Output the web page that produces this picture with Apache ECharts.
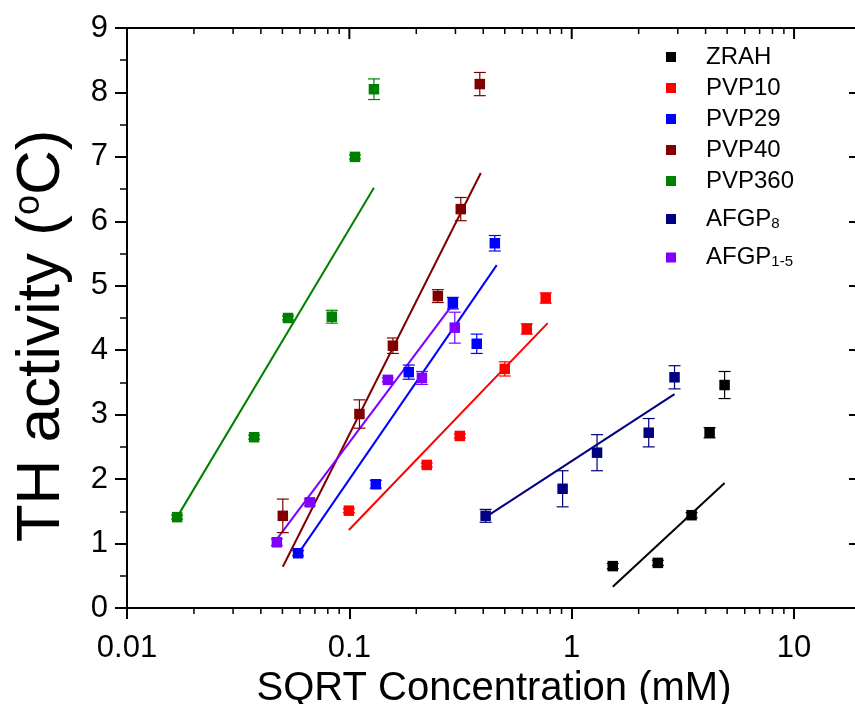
<!DOCTYPE html>
<html><head><meta charset="utf-8">
<script src="https://cdn.jsdelivr.net/npm/echarts@6/dist/echarts.min.js"></script>
<style>html,body{margin:0;padding:0;background:#fff}#c{width:855px;height:704px}</style>
</head><body><div id="c"></div>
<script>
// ---- data ----
const zrahX=[1.53,2.44,3.46,4.17,4.87];
const zrahY=[0.65,0.70,1.44,2.72,3.46];
const zrahErr=[0.04,0.04,0.04,0.08,0.21];
const zrahFitX=[1.53,4.87];
const zrahFitY=[0.33,1.94];

const pvp10X=[0.0995,0.223,0.314,0.50,0.628,0.764];
const pvp10Y=[1.51,2.22,2.67,3.71,4.33,4.81];
const pvp10Err=[0.03,0.03,0.03,0.11,0.08,0.08];
const pvp10FitX=[0.0995,0.78];
const pvp10FitY=[1.21,4.42];

const pvp29X=[0.0588,0.1315,0.185,0.292,0.374,0.451];
const pvp29Y=[0.85,1.92,3.66,4.73,4.10,5.66];
const pvp29Err=[0.04,0.06,0.11,0.09,0.15,0.12];
const pvp29FitX=[0.0588,0.46];
const pvp29FitY=[0.84,5.32];

const pvp40X=[0.0502,0.111,0.157,0.250,0.317,0.386];
const pvp40Y=[1.43,3.01,4.07,4.84,6.19,8.13];
const pvp40Err=[0.26,0.22,0.12,0.10,0.18,0.18];
const pvp40FitX=[0.0502,0.39];
const pvp40FitY=[0.64,6.75];

const pvp360X=[0.0168,0.0373,0.053,0.0834,0.106,0.129];
const pvp360Y=[1.41,2.65,4.50,4.52,7.00,8.05];
const pvp360Err=[0.03,0.03,0.03,0.10,0.03,0.16];
const pvp360FitX=[0.0168,0.129];
const pvp360FitY=[1.41,6.52];

const afgp8X=[0.41,0.91,1.30,2.22,2.90];
const afgp8Y=[1.43,1.85,2.41,2.72,3.58];
const afgp8Err=[0.10,0.28,0.28,0.22,0.18];
const afgp8FitX=[0.41,2.90];
const afgp8FitY=[1.41,3.32];

const afgp15X=[0.0472,0.0664,0.149,0.212,0.298];
const afgp15Y=[1.02,1.64,3.54,3.57,4.35];
const afgp15Err=[0.05,0.05,0.03,0.10,0.24];
const afgp15FitX=[0.0472,0.29];
const afgp15FitY=[1.07,4.70];

const seriesNames=['ZRAH','PVP10','PVP29','PVP40','PVP360','AFGP8','AFGP1-5'];
const seriesColors=['#000000','#ff0000','#0000ff','#800000','#008000','#000080','#8000ff'];
const xMajorTicks=[0.01,0.1,1,10];
const xMinorTicks=[0.02,0.03,0.04,0.05,0.06,0.07,0.08,0.09,0.2,0.3,0.4,0.5,0.6,0.7,0.8,0.9,2,3,4,5,6,7,8,9];
const xMin=0.01, xMax=20, yMin=0, yMax=9;

const groups=[
 [zrahX,zrahY,zrahErr,zrahFitX,zrahFitY],
 [pvp10X,pvp10Y,pvp10Err,pvp10FitX,pvp10FitY],
 [pvp29X,pvp29Y,pvp29Err,pvp29FitX,pvp29FitY],
 [pvp40X,pvp40Y,pvp40Err,pvp40FitX,pvp40FitY],
 [pvp360X,pvp360Y,pvp360Err,pvp360FitX,pvp360FitY],
 [afgp8X,afgp8Y,afgp8Err,afgp8FitX,afgp8FitY],
 [afgp15X,afgp15Y,afgp15Err,afgp15FitX,afgp15FitY]
];

const FONT='"Liberation Sans", Arial, Helvetica, sans-serif';

function errItem(params, api){
  const x=api.value(0), y=api.value(1), e=api.value(2);
  const hi=api.coord([x,y+e]), lo=api.coord([x,y-e]);
  const c=api.visual('color');
  const w=6;
  const st={stroke:c,lineWidth:1.2};
  return {type:'group',children:[
    {type:'line',shape:{x1:hi[0],y1:hi[1],x2:lo[0],y2:lo[1]},style:st},
    {type:'line',shape:{x1:hi[0]-w,y1:hi[1],x2:hi[0]+w,y2:hi[1]},style:st},
    {type:'line',shape:{x1:lo[0]-w,y1:lo[1],x2:lo[0]+w,y2:lo[1]},style:st}
  ]};
}
// minor ticks: bottom (outward) and top (inward)
function minorTickItem(params, api){
  const v=api.value(0);
  const b=api.coord([v,yMin]), t=api.coord([v,yMax]);
  const st={stroke:'#000',lineWidth:1.5};
  return {type:'group',children:[
    {type:'line',shape:{x1:b[0],y1:b[1],x2:b[0],y2:b[1]+6},style:st},
    {type:'line',shape:{x1:t[0],y1:t[1],x2:t[0],y2:t[1]+6},style:st}
  ]};
}

const series=[];
groups.forEach((g,i)=>{
  const [xs,ys,es,fx,fy]=g;
  const col=seriesColors[i];
  series.push({type:'line',name:seriesNames[i]+'_fit',data:fx.map((v,k)=>[v,fy[k]]),
    symbol:'none',lineStyle:{color:col,width:2},itemStyle:{color:col},z:2,silent:true});
  series.push({type:'custom',name:seriesNames[i]+'_err',renderItem:errItem,
    data:xs.map((v,k)=>[v,ys[k],es[k]]),encode:{x:0,y:1},itemStyle:{color:col},z:3,silent:true});
  series.push({type:'scatter',name:seriesNames[i],data:xs.map((v,k)=>[v,ys[k]]),
    symbol:'rect',symbolSize:10.5,itemStyle:{color:col,opacity:1},z:4});
});
series.push({type:'custom',name:'minorTicks',renderItem:minorTickItem,clip:false,
  data:xMinorTicks.map(v=>[v,1]),encode:{x:0,y:1},silent:true,z:20});
series.push({type:'line',name:'frame',xAxisIndex:0,yAxisIndex:1,
  data:[[xMin,yMin],[xMax,yMax]],symbol:'none',lineStyle:{opacity:0},silent:true});

const legendText={fontSize:24,fontFamily:FONT,color:'#000',lineHeight:24,padding:[0,0,0,25],
  rich:{b:{fontSize:24,fontFamily:FONT,color:'#000',lineHeight:24,verticalAlign:'middle'},
        s:{fontSize:15,fontFamily:FONT,color:'#000',lineHeight:15,padding:[23,0,0,0],verticalAlign:'bottom'}}};
function legendFmt(n){
  if(n==='AFGP8') return '{b|AFGP}{s|8}';
  if(n==='AFGP1-5') return '{b|AFGP}{s|1-5}';
  return n;
}
const legBase={orient:'vertical',left:666,padding:0,itemWidth:10,itemHeight:10,itemGap:7,
  icon:'rect',textStyle:legendText,formatter:legendFmt,selectedMode:false};

const axLine={show:true,onZero:false,lineStyle:{color:'#000',width:2}};
const option={
  animation:false,
  backgroundColor:'#fff',
  grid:{left:127,top:28,width:734,height:580,containLabel:false,outerBoundsMode:'none'},
  legend:[
    Object.assign({},legBase,{top:45,data:seriesNames.slice(0,5)}),
    Object.assign({},legBase,{top:193,data:['AFGP8']}),
    Object.assign({},legBase,{top:231.5,data:['AFGP1-5']})
  ],
  xAxis:[
    {type:'log',logBase:10,min:xMin,max:xMax,position:'bottom',
     axisLine:axLine,
     axisTick:{show:true,inside:false,length:11,lineStyle:{color:'#000',width:2}},
     axisLabel:{show:true,color:'#000',fontSize:31,fontFamily:FONT,margin:25,showMaxLabel:false},
     splitLine:{show:false},
     name:'SQRT Concentration (mM)',nameLocation:'middle',nameGap:48,
     nameTextStyle:{fontSize:40,fontFamily:FONT,color:'#000'}}
  ],
  yAxis:[
    {type:'value',min:yMin,max:yMax,interval:1,position:'left',
     axisLine:axLine,
     axisTick:{show:true,inside:false,length:12,lineStyle:{color:'#000',width:2}},
     minorTick:{show:true,splitNumber:2,length:7,lineStyle:{color:'#000',width:1.5}},
     axisLabel:{show:true,color:'#000',fontSize:31,fontFamily:FONT,margin:19},
     splitLine:{show:false},
     name:'TH activity ({sup|o}C)',nameLocation:'middle',nameGap:54,
     nameTextStyle:{fontSize:62,fontFamily:FONT,color:'#000',lineHeight:62,padding:[0,36,0,0],
       rich:{sup:{fontSize:36,fontFamily:FONT,color:'#000',lineHeight:36,verticalAlign:'top'}}}},
    {type:'value',min:yMin,max:yMax,interval:1,position:'right',
     axisLine:axLine,
     axisTick:{show:true,inside:true,length:12,lineStyle:{color:'#000',width:2}},
     axisLabel:{show:false},splitLine:{show:false}}
  ],
  series:series
};
const chart=echarts.init(document.getElementById('c'),null,{renderer:'canvas'});
chart.setOption(option);
// top frame line and inward major ticks, placed through the chart's own scales
try{
  const fin={xAxisIndex:0,yAxisIndex:0};
  const l=chart.convertToPixel(fin,[xMin,yMax]);
  const r=chart.convertToPixel(fin,[xMax,yMax]);
  const els=[{type:'line',z:100,silent:true,shape:{x1:l[0]-1,y1:l[1],x2:r[0]+1,y2:r[1]},style:{stroke:'#000',lineWidth:2}}];
  xMajorTicks.forEach(v=>{
    const p=chart.convertToPixel(fin,[v,yMax]);
    els.push({type:'line',z:100,silent:true,shape:{x1:p[0],y1:p[1],x2:p[0],y2:p[1]+11},style:{stroke:'#000',lineWidth:2}});
  });
  chart.setOption({graphic:{elements:els}});
}catch(e){console.error(e);}
</script></body></html>
